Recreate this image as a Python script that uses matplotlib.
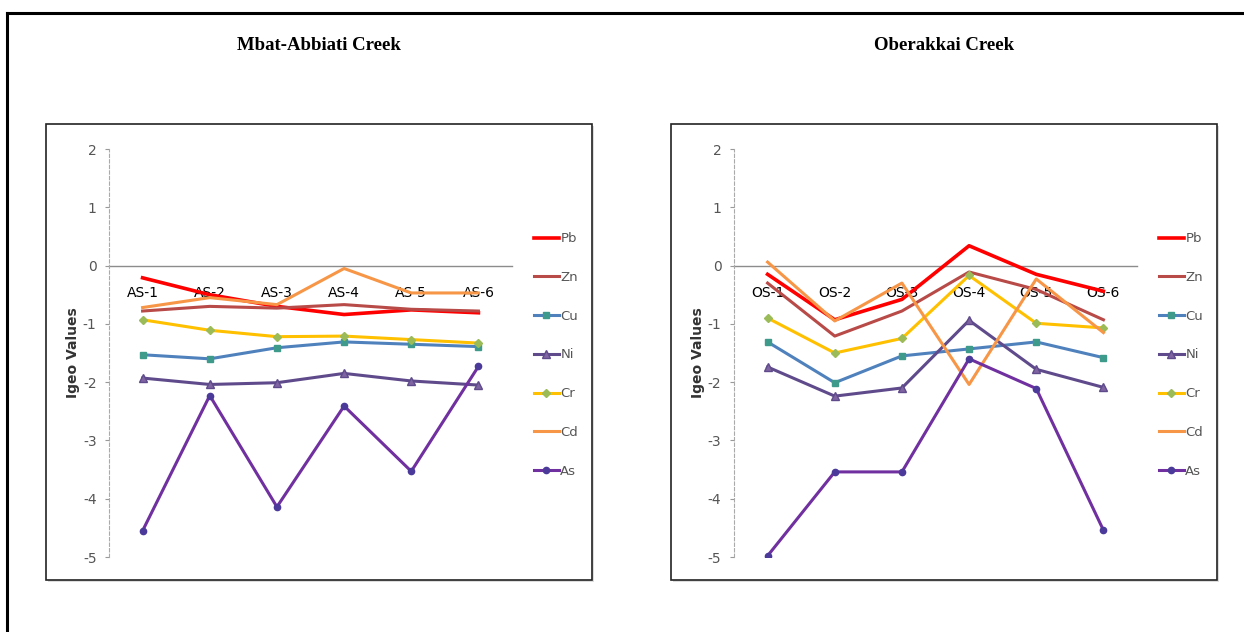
import numpy as np
import matplotlib
matplotlib.use("Agg")
import matplotlib.pyplot as plt
from matplotlib.patches import Rectangle
from matplotlib.lines import Line2D

plt.rcParams["axes.unicode_minus"] = False

# sample sites
sites_mbat = ["AS-1", "AS-2", "AS-3", "AS-4", "AS-5", "AS-6"]
sites_ober = ["OS-1", "OS-2", "OS-3", "OS-4", "OS-5", "OS-6"]
metals = ["Pb", "Zn", "Cu", "Ni", "Cr", "Cd", "As"]

# Igeo values, Mbat-Abbiati Creek
pb_mbat = [-0.21, -0.50, -0.70, -0.84, -0.76, -0.81]
zn_mbat = [-0.78, -0.70, -0.73, -0.67, -0.75, -0.78]
cu_mbat = [-1.53, -1.60, -1.41, -1.31, -1.35, -1.39]
ni_mbat = [-1.93, -2.04, -2.01, -1.85, -1.98, -2.05]
cr_mbat = [-0.93, -1.11, -1.22, -1.21, -1.27, -1.33]
cd_mbat = [-0.72, -0.55, -0.67, -0.05, -0.47, -0.47]
as_mbat = [-4.55, -2.23, -4.14, -2.41, -3.53, -1.73]

# Igeo values, Oberakkai Creek
pb_ober = [-0.15, -0.93, -0.58, 0.34, -0.15, -0.44]
zn_ober = [-0.30, -1.21, -0.78, -0.11, -0.41, -0.93]
cu_ober = [-1.31, -2.01, -1.55, -1.43, -1.31, -1.58]
ni_ober = [-1.74, -2.24, -2.10, -0.94, -1.78, -2.09]
cr_ober = [-0.90, -1.50, -1.25, -0.17, -0.99, -1.07]
cd_ober = [0.06, -0.95, -0.30, -2.04, -0.23, -1.15]
as_ober = [-4.98, -3.54, -3.54, -1.60, -2.11, -4.54]

styles = {
    "Pb": dict(color="#FF0000", lw=2.6, marker=None),
    "Zn": dict(color="#B84A47", lw=2.2, marker=None),
    "Cu": dict(color="#4F81BD", lw=2.2, marker="s", mfc="#3E9A8A", mec="#3E9A8A", ms=5),
    "Ni": dict(color="#5F4B8B", lw=2.2, marker="^", mfc="#8064A2", mec="#5F4B8B", ms=6),
    "Cr": dict(color="#FFC000", lw=2.2, marker="D", mfc="#9BBB59", mec="#9BBB59", ms=4),
    "Cd": dict(color="#F79646", lw=2.2, marker=None),
    "As": dict(color="#7030A0", lw=2.2, marker="o", mfc="#4B3A9A", mec="#4B3A9A", ms=4.5),
}

W, H = 1244, 632
fig = plt.figure(figsize=(W / 100, H / 100), dpi=100)

# outer table border (top and left lines)
fig.add_artist(Line2D([7 / W, 1.0], [1 - 13 / H, 1 - 13 / H], color="black", lw=2.2))
fig.add_artist(Line2D([7 / W, 7 / W], [0, 1 - 13 / H], color="black", lw=2.2))

tick_font = ["Liberation Sans Narrow", "DejaVu Sans"]


def panel(box_x, sites, data, title):
    # box around the chart
    bx0, bx1, by0, by1 = box_x, box_x + 546, 124, 580
    fig.add_artist(Rectangle((bx0 / W + 0.0015, 1 - by1 / H - 0.003), (bx1 - bx0) / W, (by1 - by0) / H,
                             transform=fig.transFigure, facecolor="#DDDDDD", edgecolor="none", zorder=0))
    fig.add_artist(Rectangle((bx0 / W, 1 - by1 / H), (bx1 - bx0) / W, (by1 - by0) / H,
                             transform=fig.transFigure, facecolor="white", edgecolor="#222222",
                             lw=1.2, zorder=0.5))
    fig.text((bx0 + bx1) / 2 / W, 1 - 46 / H, title, ha="center", va="center",
             fontsize=13.5, fontweight="bold", family="Liberation Serif")

    ax_l = (box_x + 63) / W
    ax = fig.add_axes([ax_l, 1 - 557 / H, 403 / W, 408 / H])
    ax.set_zorder(2)
    ax.patch.set_alpha(0)
    x = np.arange(1, len(sites) + 1)
    for m, vals in zip(metals, data):
        st = dict(styles[m])
        ax.plot(x, vals, label=m, **st)
    ax.set_xlim(0.5, 6.5)
    ax.set_ylim(-5, 2)
    ax.set_yticks(range(-5, 3))
    ax.set_xticks(x)
    ax.set_xticklabels(sites, family=tick_font, fontsize=10, color="#333333")
    ax.tick_params(axis="x", length=0, pad=15)
    ax.tick_params(axis="y", length=3, color="#999999", labelcolor="#555555", labelsize=10, pad=6)
    for lab in ax.get_yticklabels():
        lab.set_family(tick_font)
    ax.spines["top"].set_visible(False)
    ax.spines["right"].set_visible(False)
    ax.spines["bottom"].set_position(("data", 0))
    ax.spines["bottom"].set_color("#8C8C8C")
    ax.spines["bottom"].set_linewidth(1.0)
    ax.spines["bottom"].set_zorder(0)
    ax.spines["left"].set_color("#AAAAAA")
    ax.spines["left"].set_linestyle((0, (3, 2)))
    ax.set_ylabel("Igeo Values", fontsize=10, fontweight="bold", color="#333333", labelpad=2)
    leg = ax.legend(loc="upper left", bbox_to_anchor=(1.025, 0.825), frameon=False,
                    labelspacing=1.95, handlelength=1.9, handletextpad=0.1,
                    prop={"family": tick_font, "size": 9.5})
    for t in leg.get_texts():
        t.set_color("#555555")
    return ax


panel(46, sites_mbat,
      [pb_mbat, zn_mbat, cu_mbat, ni_mbat, cr_mbat, cd_mbat, as_mbat],
      "Mbat-Abbiati Creek")
panel(671, sites_ober,
      [pb_ober, zn_ober, cu_ober, ni_ober, cr_ober, cd_ober, as_ober],
      "Oberakkai Creek")

fig.savefig("out.png", dpi=100)
